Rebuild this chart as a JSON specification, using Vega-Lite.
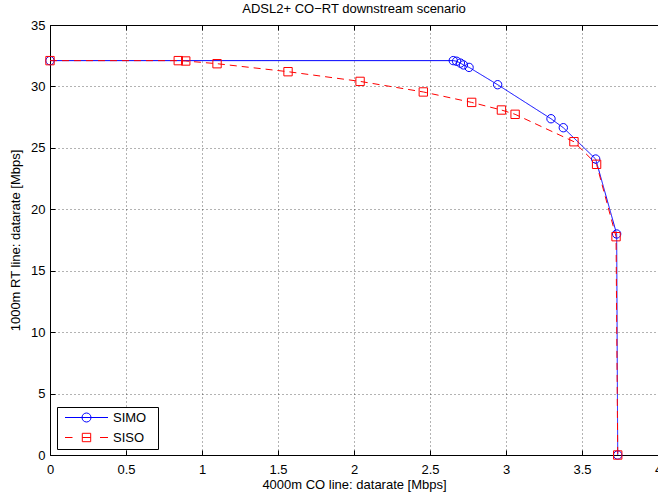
{
  "$schema": "https://vega.github.io/schema/vega-lite/v6.json",
  "width": 608,
  "height": 430,
  "autosize": {"type": "none"},
  "padding": {"left": 50, "top": 25, "right": 0, "bottom": 42},
  "background": "white",
  "title": {"text": "ADSL2+ CO−RT downstream scenario", "fontSize": 13, "fontWeight": "normal", "font": "Liberation Sans", "color": "black", "offset": -10, "baseline": "bottom", "frame": "group"},
  "config": {
    "view": {"stroke": null},
    "axis": {
      "domainColor": "black", "tickColor": "black", "labelColor": "black", "titleColor": "black",
      "labelFont": "Liberation Sans", "titleFont": "Liberation Sans", "labelFontSize": 13, "titleFontSize": 13,
      "titleFontWeight": "normal", "gridColor": "black", "gridDash": [1, 3], "gridOpacity": 0.6,
      "tickSize": -5, "domainWidth": 1, "tickWidth": 1
    }
  },
  "data": {"values": [
    {"series": "SIMO", "x": 0, "y": 32.1},
    {"series": "SIMO", "x": 2.653, "y": 32.1},
    {"series": "SIMO", "x": 2.675, "y": 32.05},
    {"series": "SIMO", "x": 2.70, "y": 31.9},
    {"series": "SIMO", "x": 2.72, "y": 31.75},
    {"series": "SIMO", "x": 2.757, "y": 31.55},
    {"series": "SIMO", "x": 2.945, "y": 30.14},
    {"series": "SIMO", "x": 3.296, "y": 27.37},
    {"series": "SIMO", "x": 3.377, "y": 26.64},
    {"series": "SIMO", "x": 3.59, "y": 24.09},
    {"series": "SIMO", "x": 3.728, "y": 17.99},
    {"series": "SIMO", "x": 3.735, "y": 0},
    {"series": "SISO", "x": 0, "y": 32.1},
    {"series": "SISO", "x": 0.844, "y": 32.1},
    {"series": "SISO", "x": 0.893, "y": 32.07},
    {"series": "SISO", "x": 1.099, "y": 31.85},
    {"series": "SISO", "x": 1.566, "y": 31.2},
    {"series": "SISO", "x": 2.04, "y": 30.41},
    {"series": "SISO", "x": 2.456, "y": 29.55},
    {"series": "SISO", "x": 2.774, "y": 28.7},
    {"series": "SISO", "x": 2.97, "y": 28.08},
    {"series": "SISO", "x": 3.06, "y": 27.73},
    {"series": "SISO", "x": 3.447, "y": 25.5},
    {"series": "SISO", "x": 3.596, "y": 23.66},
    {"series": "SISO", "x": 3.724, "y": 17.77},
    {"series": "SISO", "x": 3.735, "y": 0}
  ]},
  "layer": [
    {
      "mark": {"type": "line", "strokeWidth": 1},
      "encoding": {
        "x": {"field": "x", "type": "quantitative", "scale": {"domain": [0, 4], "nice": false},
          "axis": {"values": [0, 0.5, 1, 1.5, 2, 2.5, 3, 3.5, 4], "format": "~g", "title": "4000m CO line: datarate [Mbps]", "labelPadding": 13, "titlePadding": 2, "labelFlush": false}},
        "y": {"field": "y", "type": "quantitative", "scale": {"domain": [0, 35], "nice": false},
          "axis": {"values": [0, 5, 10, 15, 20, 25, 30, 35], "title": "1000m RT line: datarate [Mbps]", "labelPadding": 10, "titlePadding": 8}},
        "color": {"field": "series", "type": "nominal", "scale": {"domain": ["SIMO", "SISO"], "range": ["#0000ff", "#ff0000"]}, "legend": null},
        "strokeDash": {"field": "series", "type": "nominal", "scale": {"domain": ["SIMO", "SISO"], "range": [[1, 0], [7, 5]]}, "legend": null}
      }
    },
    {
      "mark": {"type": "point", "filled": false, "size": 70, "strokeWidth": 1, "opacity": 1},
      "encoding": {
        "x": {"field": "x", "type": "quantitative",
          "axis": {"orient": "top", "labels": false, "grid": false, "title": null, "values": [0, 0.5, 1, 1.5, 2, 2.5, 3, 3.5, 4]}},
        "y": {"field": "y", "type": "quantitative", "axis": null},
        "color": {"field": "series", "type": "nominal", "scale": {"domain": ["SIMO", "SISO"], "range": ["#0000ff", "#ff0000"]}, "legend": null},
        "shape": {"field": "series", "type": "nominal", "scale": {"domain": ["SIMO", "SISO"], "range": ["circle", "square"]}, "legend": null}
      }
    },
    {
      "transform": [{"filter": "datum.x < -1"}],
      "mark": {"type": "point", "filled": false, "strokeWidth": 1, "opacity": 1},
      "encoding": {
        "x": {"field": "x", "type": "quantitative", "axis": null},
        "y": {"field": "y", "type": "quantitative", "axis": null},
        "color": {"field": "series", "type": "nominal", "scale": {"domain": ["SIMO", "SISO"], "range": ["#0000ff", "#ff0000"]},
          "legend": {"orient": "none", "legendX": 7, "legendY": 382, "title": null, "strokeColor": "black", "fillColor": "white", "padding": 4,
            "labelFont": "Liberation Sans", "labelFontSize": 13, "labelColor": "black", "symbolSize": 100, "symbolOffset": 19, "labelOffset": 20,
            "rowPadding": 6, "symbolStrokeWidth": 1, "symbolFillColor": "transparent"}},
        "shape": {"field": "series", "type": "nominal", "scale": {"domain": ["SIMO", "SISO"], "range": [
          "M-4.3,0H4.3M0.9,0A0.9,0.9,0,1,1,-0.9,0A0.9,0.9,0,1,1,0.9,0M13.1,0",
          "M-4.3,0H-2.8M2.7,0H4.3M-0.84,-0.84H0.84V0.84H-0.84ZM-0.84,0H0.84M13.1,0"]}}
      }
    }
  ],
  "resolve": {"axis": {"x": "independent", "y": "independent"}, "scale": {"color": "independent", "shape": "independent"}}
}
